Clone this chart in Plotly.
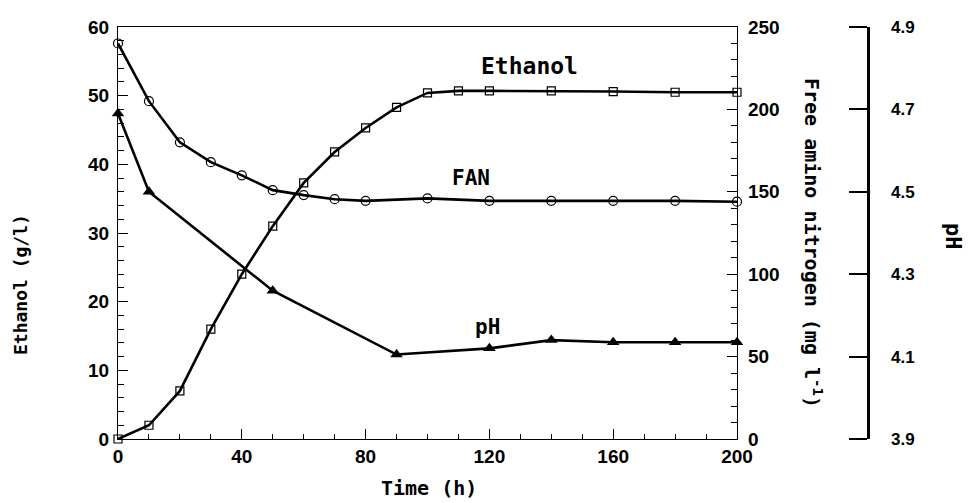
import plotly.graph_objects as go

# ---- data ----
time_eth = [0, 10, 20, 30, 40, 50, 60, 70, 80, 90, 100, 110, 120, 140, 160, 180, 200]
ethanol = [0, 2, 7, 16, 24, 31, 37.3, 41.8, 45.3, 48.3, 50.4, 50.7, 50.7, 50.7, 50.6, 50.5, 50.5]

time_fan = [0, 10, 20, 30, 40, 50, 60, 70, 80, 100, 120, 140, 160, 180, 200]
fan = [240, 205, 180, 168, 160, 151, 148, 145.5, 144.5, 146, 144.5, 144.5, 144.5, 144.5, 144]

time_ph = [0, 10, 50, 90, 120, 140, 160, 180, 200]
ph = [4.69, 4.50, 4.26, 4.105, 4.12, 4.14, 4.135, 4.135, 4.135]

x_ticks = [0, 40, 80, 120, 160, 200]
eth_ticks = [0, 10, 20, 30, 40, 50, 60]
fan_ticks = [0, 50, 100, 150, 200, 250]
ph_ticks = [3.9, 4.1, 4.3, 4.5, 4.7, 4.9]

# ---- layout geometry (pixels) ----
W, H = 968, 503
ML, MR, MT, MB = 118, 0, 27, 64
PW = W - ML - MR
PH_ = H - MT - MB
plot_right_px = 737
ph_axis_px = 868
ph_tick_len = 18


def px(xp):
    return (xp - ML) / PW


def py(yp):
    return (H - MB - yp) / PH_


mono = "DejaVu Sans Mono"
sans = "Liberation Sans, Arial"
tick_font = dict(family=sans, size=19, color="black", weight="bold")

fig = go.Figure()
line = dict(color="black", width=2.6)

fig.add_trace(go.Scatter(
    x=time_eth, y=ethanol, mode="lines+markers", line=line, yaxis="y",
    marker=dict(symbol="square-open", size=8, color="black", line=dict(width=1.2)),
    cliponaxis=False, showlegend=False))
fig.add_trace(go.Scatter(
    x=time_fan, y=fan, mode="lines+markers", line=line, yaxis="y2",
    marker=dict(symbol="circle-open", size=9, color="black", line=dict(width=1.2)),
    cliponaxis=False, showlegend=False))
fig.add_trace(go.Scatter(
    x=time_ph, y=ph, mode="lines+markers", line=line, yaxis="y3",
    marker=dict(symbol="triangle-up", size=11, color="black"),
    cliponaxis=False, showlegend=False))
# same pH data on the label-only twin of the pH axis (invisible)
fig.add_trace(go.Scatter(
    x=time_ph, y=ph, mode="lines", yaxis="y4", opacity=0,
    line=dict(width=0), hoverinfo="skip", showlegend=False))

fig.update_layout(
    width=W, height=H,
    margin=dict(l=ML, r=MR, t=MT, b=MB, autoexpand=False),
    paper_bgcolor="white", plot_bgcolor="white",
    xaxis=dict(
        domain=[0, px(plot_right_px)], range=[0, 200], automargin=False,
        tickvals=x_ticks, ticks="inside", ticklen=10, tickwidth=1.2, tickcolor="black",
        minor=dict(dtick=10, ticks="inside", ticklen=5, tickcolor="black"),
        showline=True, linecolor="black", linewidth=1.2, mirror=True,
        showgrid=False, zeroline=False, tickfont=tick_font,
    ),
    yaxis=dict(
        range=[0, 60], tickvals=eth_ticks, ticks="inside", ticklen=10, tickwidth=1.2,
        tickcolor="black", automargin=False,
        minor=dict(dtick=2, ticks="inside", ticklen=6, tickcolor="black"),
        showline=True, linecolor="black", linewidth=1.2,
        showgrid=False, zeroline=False, tickfont=tick_font, ticklabelstandoff=4,
    ),
    yaxis2=dict(
        range=[0, 250], tickvals=fan_ticks, overlaying="y", side="right", anchor="x",
        ticks="inside", ticklen=10, tickwidth=1.2, tickcolor="black", automargin=False,
        minor=dict(dtick=10, ticks="inside", ticklen=6, tickcolor="black"),
        showline=True, linecolor="black", linewidth=1.2,
        showgrid=False, zeroline=False, tickfont=tick_font, ticklabelstandoff=6,
    ),
    # pH axis: line and left-pointing ticks
    yaxis3=dict(
        range=[3.9, 4.9], tickvals=ph_ticks,
        overlaying="y", side="left", anchor="free", position=px(ph_axis_px),
        ticks="outside", ticklen=ph_tick_len, tickwidth=2, tickcolor="black",
        showline=True, linecolor="black", linewidth=3, automargin=False,
        showgrid=False, zeroline=False, showticklabels=False,
    ),
    # pH axis: labels on the right
    yaxis4=dict(
        range=[3.9, 4.9], tickvals=ph_ticks, tickformat=".1f",
        overlaying="y", side="right", anchor="free", position=px(ph_axis_px),
        ticks="", showline=False, showgrid=False, zeroline=False, automargin=False,
        tickfont=dict(family=sans, size=17, color="black", weight="bold"),
        ticklabelstandoff=22,
    ),
)

ann_font = dict(family=mono, size=21, color="black", weight="bold")
annotations = [
    dict(text="Ethanol", x=px(529), y=py(66), font=dict(family=mono, size=23, color="black", weight="bold")),
    dict(text="FAN", x=px(471), y=py(178), font=ann_font),
    dict(text="pH", x=px(487), y=py(327), font=ann_font),
    dict(text="Time (h)", x=px(429), y=py(488), font=dict(family=mono, size=20, color="black", weight="bold")),
    dict(text="Ethanol (g/l)", x=px(20), y=py(285), textangle=-90,
         font=dict(family=mono, size=18, color="black", weight="bold")),
    dict(text="Free amino nitrogen (mg l<sup>-1</sup>)", x=px(813), y=py(243), textangle=90,
         font=dict(family=mono, size=20, color="black", weight="bold")),
    dict(text="pH", x=px(954), y=py(236), textangle=90,
         font=dict(family=mono, size=22, color="black", weight="bold")),
]
for a in annotations:
    a.update(xref="paper", yref="paper", showarrow=False, xanchor="center", yanchor="middle")
fig.update_layout(annotations=annotations)

fig.write_html("out.html")
